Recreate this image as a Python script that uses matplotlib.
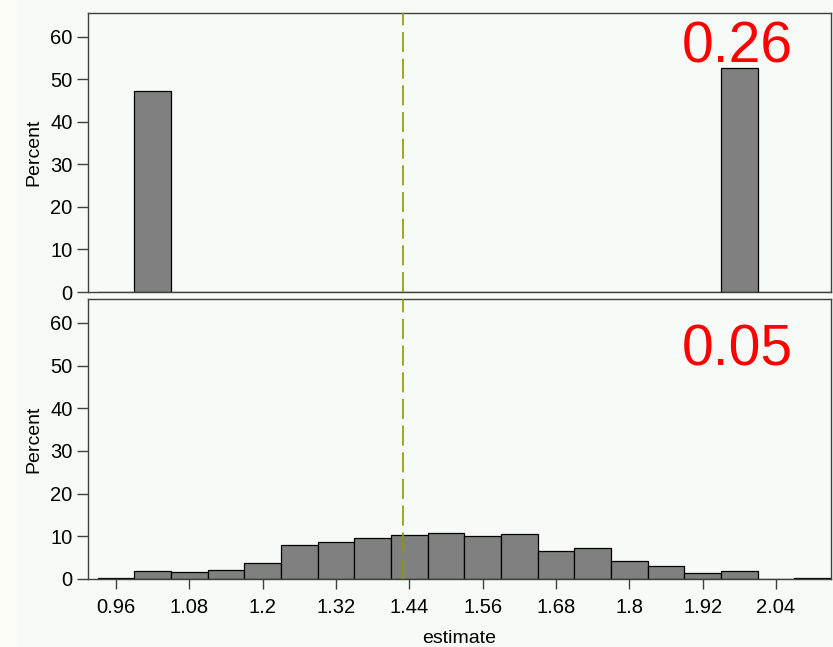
import matplotlib
matplotlib.use("Agg")
import matplotlib.pyplot as plt
from matplotlib.patches import Rectangle

# bin centres (width 0.06) shared by both panels
binCenters = [0.96, 1.02, 1.08, 1.14, 1.20, 1.26, 1.32, 1.38, 1.44, 1.50,
              1.56, 1.62, 1.68, 1.74, 1.80, 1.86, 1.92, 1.98, 2.04, 2.10]
binWidth = 0.06

topPercent = [0, 47.3, 0, 0, 0, 0, 0, 0, 0, 0,
              0, 0, 0, 0, 0, 0, 0, 52.7, 0, 0]
bottomPercent = [0.3, 1.8, 1.6, 2.1, 3.8, 8.0, 8.7, 9.5, 10.2, 10.7,
                 10.0, 10.5, 6.6, 7.2, 4.2, 3.0, 1.3, 1.9, 0, 0.3]

panelLabels = ["0.26", "0.05"]
trueValue = 1.43
xTicks = [0.96, 1.08, 1.2, 1.32, 1.44, 1.56, 1.68, 1.8, 1.92, 2.04]
xTickLabels = ["0.96", "1.08", "1.2", "1.32", "1.44", "1.56", "1.68", "1.8", "1.92", "2.04"]
yTicks = [0, 10, 20, 30, 40, 50, 60]

bg = "#f6fbf8"
plt.rcParams['font.family'] = ['Liberation Sans', 'DejaVu Sans']

fig = plt.figure(figsize=(8.33, 6.47), dpi=100, facecolor=bg)
fig.patches.append(Rectangle((0, 0), 18 / 833, 1, transform=fig.transFigure,
                             facecolor="#fdfdf8", edgecolor="none", zorder=0))

axTop = fig.add_axes([88 / 833, 1 - 292 / 647, 743 / 833, 279 / 647])
axBot = fig.add_axes([88 / 833, 1 - 579 / 647, 743 / 833, 280 / 647])


def drawPanel(ax, heights, label, labelY, showX):
    ax.set_facecolor(bg)
    ax.bar(binCenters, heights, width=binWidth, color="#808080",
           edgecolor="black", linewidth=0.9, zorder=2)
    ax.axvline(trueValue, color="#8e9800", linestyle=(0, (12, 4)),
               linewidth=1.2, zorder=3)
    ax.set_xlim(0.914, 2.13)
    ax.set_ylim(0, 65.6)
    ax.set_yticks(yTicks)
    ax.tick_params(axis="y", length=8, width=1, color="#404040",
                   labelsize=14.5, pad=3)
    if showX:
        ax.set_xticks(xTicks)
        ax.set_xticklabels(xTickLabels)
        ax.tick_params(axis="x", length=7, width=1, color="#404040",
                       labelsize=14.5, pad=7)
        ax.set_xlabel("estimate", fontsize=14, labelpad=9)
    else:
        ax.set_xticks([])
    ax.set_ylabel("Percent", fontsize=14, labelpad=6)
    for s in ax.spines.values():
        s.set_color("#404040")
        s.set_linewidth(1.0)
    ax.text(0.949, labelY, label, transform=ax.transAxes, ha="right",
            va="baseline", color="red", fontsize=41)


drawPanel(axTop, topPercent, panelLabels[0], 0.821, False)
drawPanel(axBot, bottomPercent, panelLabels[1], 0.761, True)

fig.savefig("out.png", dpi=100, facecolor=bg)
